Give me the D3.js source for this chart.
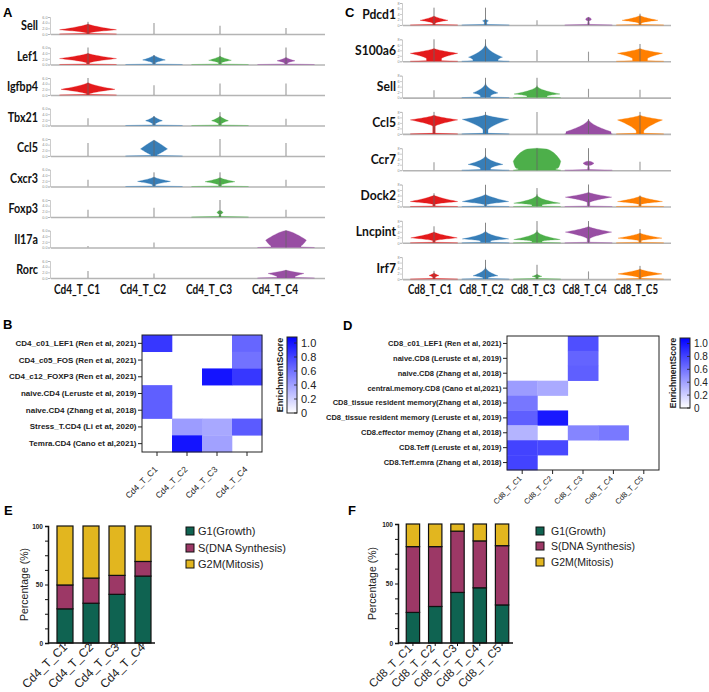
<!DOCTYPE html>
<html><head><meta charset="utf-8">
<script src="https://cdn.jsdelivr.net/npm/d3@7"></script>
<style>body{margin:0;background:#fff}svg{display:block}</style>
</head><body><svg id="c" width="709" height="692"></svg>
<script>
// ---------------- DATA ----------------
const clustersA = ["Cd4_T_C1","Cd4_T_C2","Cd4_T_C3","Cd4_T_C4"];
const genesA = ["Sell","Lef1","Igfbp4","Tbx21","Ccl5","Cxcr3","Foxp3","Il17a","Rorc"];
// each violin: [peak, halfWidth(0-1), bodyTop, whiskerTop, bodyBottom, neckWidth, shape]
const violinA = [
  [[1.5,0.95,3.6,4.3,0.4],[0,0,0,3.9],[0,0,0,2.9],[0,0,0,2.1]],
  [[2.1,0.95,4.0,6.0,0.6],[1.6,0.38,3.3,3.3,0.6],[1.5,0.38,3.0,6.0,0.6],[1.3,0.3,2.6,6.0,0.5]],
  [[2.0,0.9,4.4,6.0,0.4],[0,0,0,3.4],[0,0,0,4.1],[0,0,0,4.1]],
  [[0,0,0,2.6],[1.7,0.28,3.3,3.3,0.6],[1.7,0.28,3.4,4.7,0.6],[0,0,0,2.4]],
  [[0,0,0,4.6],[2.5,0.45,5.6,5.6,0.4,0.1,1.1],[0,0,0,6.0],[0,0,0,4.6]],
  [[0,0,0,2.4],[1.8,0.55,3.4,5.0,0.6],[1.7,0.5,3.2,5.0,0.6],[0,0,0,2.4]],
  [[0,0,0,2.6],[0,0,0,3.3],[1.6,0.1,2.3,6.0,1.0,0.02,2],[0,0,0,2.6]],
  [[0,0,0,0.5],[0,0,0,1.8],[0,0,0,0],[2.6,0.68,6.0,6.0,0.6,0.5,1.4]],
  [[0,0,0,2.5],[0,0,0,1.6],[0,0,0,0],[1.6,0.6,2.8,2.8,0.5,0.3,0.8]]
];
const clustersC = ["Cd8_T_C1","Cd8_T_C2","Cd8_T_C3","Cd8_T_C4","Cd8_T_C5"];
const genesC = ["Pdcd1","S100a6","Sell","Ccl5","Ccr7","Dock2","Lncpint","Irf7"];
const violinC = [
  [[1.7,0.56,3.3,6.3,0.7],[1.5,0.12,2.2,6.3,1.0],[0,0,0,1.7],[2.1,0.12,2.8,2.8,1.5,0.02,2],[1.7,0.72,3.5,4.1,0.7]],
  [[2.9,0.95,4.7,8.0,1.0,0.3],[1.5,0.68,6.5,8.0,0.4,0.5,0.5],[0,0,0,4.1],[0,0,0,3.5],[2.9,0.9,4.7,6.3,1.0,0.3]],
  [[0,0,0,2.7],[1.7,0.5,5.5,7.2,0.5,0.2,0.5],[1.3,0.92,4.4,7.2,0.5,0.4,0.5],[0,0,0,3.2],[0,0,0,2.9]],
  [[5.1,0.95,6.8,8.0,2.8],[5.3,0.93,7.0,8.0,1.5,0.1],[0,0,0,8.0],[0.8,0.9,5.3,5.3,0.2,0.9,0.6],[5.1,0.9,6.8,8.0,1.0,0.15]],
  [[0,0,0,2.9],[2.1,0.7,5.5,8.0,0.5,0.2,0.5],[3.3,0.95,8.0,8.0,0.5,0.75,3],[2.5,0.22,3.3,8.0,1.7,0.02,2],[0,0,0,3.1]],
  [[1.8,0.95,4.2,4.8,0.8],[1.8,0.93,4.5,7.9,0.7],[1.2,0.93,4.5,6.7,0.5,0.2,0.45],[3.4,0.93,5.2,8.0,1.5],[1.8,0.9,3.8,4.0,0.8]],
  [[1.8,0.93,4.0,6.0,0.8],[1.4,0.93,4.5,7.3,0.6,0.2,0.5],[1.2,0.93,4.6,7.9,0.5,0.2,0.45],[3.9,0.93,6.0,7.9,1.5],[1.7,0.88,3.6,5.0,0.8]],
  [[1.3,0.2,2.3,3.0,0.7],[1.2,0.5,4.5,7.0,0.4,0.1,0.5],[1.0,0.2,1.8,5.2,0.6],[0,0,0,2.8],[1.9,0.88,3.7,4.8,0.6]]
];
const clusterColors = ["#e41a1c","#377eb8","#4daf4a","#984ea3","#ff7f00"];

const rowsB = ["CD4_c01_LEF1 (Ren et al, 2021)","CD4_c05_FOS (Ren et al, 2021)","CD4_c12_FOXP3 (Ren et al, 2021)",
  "naive.CD4 (Leruste et al, 2019)","naive.CD4 (Zhang et al, 2018)","Stress_T.CD4 (Li et at, 2020)","Temra.CD4 (Cano et al,2021)"];
const valuesB = [
  [0.85,null,null,0.65],[null,null,null,0.6],[null,null,1.0,0.85],[0.68,null,null,null],
  [0.68,null,null,null],[null,0.42,0.37,0.7],[null,1.0,0.4,null]
];
const rowsD = ["CD8_c01_LEF1 (Ren et al, 2021)","naive.CD8 (Leruste et al, 2019)","naive.CD8 (Zhang et al, 2018)",
  "central.memory.CD8 (Cano et al,2021)","CD8_tissue resident memory(Zhang et al, 2018)",
  "CD8_tissue resident memory (Leruste et al, 2019)","CD8.effector memoy (Zhang et al, 2018)",
  "CD8.Teff (Leruste et al, 2019)","CD8.Teff.emra (Zhang et al, 2018)"];
const valuesD = [
  [null,null,0.75,null,null],[null,null,0.66,null,null],[null,null,0.68,null,null],
  [0.42,0.36,null,null,null],[0.58,null,null,null,null],[0.68,0.98,null,null,null],
  [0.32,null,0.52,0.57,null],[0.8,0.78,null,null,null],[0.8,null,null,null,null]
];
const colorbarTicks = [0,0.2,0.4,0.6,0.8,1.0];

const phases = ["G1(Growth)","S(DNA Synthesis)","G2M(Mitosis)"];
const phaseColors = ["#0f6351","#9c3866","#e2b61f"];
const g1E = [29.2,34.0,41.6,57.2];
const sE  = [20.4,21.5,16.2,12.5];
const g2mE= [50.4,44.5,42.2,30.3];
const g1F = [25.7,30.7,42.5,46.4,32.0];
const sF  = [55.3,50.3,51.5,39.4,49.8];
const g2mF= [19.0,19.0,6.0,14.2,18.2];
const pctTicks = [0,12.5,25,37.5,50,62.5,75,87.5,100];

// ---------------- DRAW ----------------
const svg = d3.select("#c");
svg.append("rect").attr("width",709).attr("height",692).attr("fill","#fff");
const VF = "Lato, 'Open Sans', sans-serif";
const AF = "'Liberation Sans', Arial, sans-serif";

function condense(sel, f){
  sel.each(function(){
    const L = this.getComputedTextLength();
    d3.select(this).attr("textLength", L*f).attr("lengthAdjust","spacingAndGlyphs");
  });
}
function letter(t,x,y){
  svg.append("text").attr("x",x).attr("y",y).text(t)
    .attr("font-family",AF).attr("font-weight","bold").attr("font-size",13).attr("fill","#000");
}
letter("A",3,17); letter("C",345,17); letter("B",3,329); letter("D",343,330); letter("E",4,515); letter("F",348,515);

function profile(d){
  let [pk,w,top,wh,lo,neck,p] = d;
  if(lo===undefined) lo = Math.max(0.3, pk-(top-pk)*0.6);
  if(neck===undefined) neck = 0.05;
  if(p===undefined) p = 0.7;
  const pts = [[0,0.95],[Math.min(0.22,lo*0.5),Math.max(neck,0.04)],[lo,neck]];
  const n = 14;
  for(let k=1;k<=n;k++){const t=k/n; pts.push([lo+(pk-lo)*t, neck+(w-neck)*Math.pow(t,1/p)]);}
  for(let k=1;k<=n;k++){const s=k/n; pts.push([pk+(top-pk)*s, w*Math.pow(1-s,1/p)]);}
  return pts;
}

function violins(cfg){
  const g = svg.append("g");
  const x = d3.scalePoint().domain(cfg.clusters).range(cfg.xRange);
  cfg.genes.forEach((gene,i)=>{
    const base = cfg.base0 + i*cfg.step;
    const y = d3.scaleLinear().domain([0,cfg.yMax]).range([base, base-cfg.rowH]);
    g.append("line").attr("x1",cfg.axisX+1).attr("x2",cfg.lineEnd).attr("y1",y(0)+0.5).attr("y2",y(0)+0.5)
      .attr("stroke","#b4b4b4").attr("stroke-width",1.6);
    const ax = g.append("g").attr("transform",`translate(${cfg.axisX},0)`)
      .call(d3.axisLeft(y).tickValues(cfg.ticks).tickSize(2).tickPadding(0.5));
    ax.selectAll("text").attr("font-size",3.8).attr("fill","#888").attr("font-family",AF);
    ax.selectAll("line,path").attr("stroke","#aaa").attr("stroke-width",0.6);
    const lab = g.append("text").attr("x",cfg.labelX).attr("y",base-cfg.rowH/2+4.5).attr("text-anchor","end")
      .attr("font-family",VF).attr("font-weight","bold").attr("font-size",12.5).attr("fill","#111").text(gene);
    condense(lab, cfg.labelCond);
    cfg.data[i].forEach((d,j)=>{
      const cx = x(cfg.clusters[j]);
      if(d[1]>0){
        const area = d3.area().y(p=>y(p[0])).x0(p=>cx-p[1]*cfg.maxHalf).x1(p=>cx+p[1]*cfg.maxHalf);
        g.append("path").attr("d",area(profile(d))).attr("fill",clusterColors[j]).attr("stroke",clusterColors[j]).attr("stroke-width",0.3);
      }
      if(d[3]>0){
        g.append("line").attr("x1",cx).attr("x2",cx).attr("y1",y(0)).attr("y2",y(d[3]))
          .attr("stroke", d[1]>0 ? "#666" : "#9a9a9a").attr("stroke-width",d[1]>0?0.8:1.1);
      }
    });
  });
  cfg.clusters.forEach(c=>{
    g.append("text").attr("x",x(c)+cfg.labelShift).attr("y",294).attr("text-anchor","middle")
      .attr("font-family",VF).attr("font-weight","bold").attr("font-size",12.5).attr("fill","#111")
      .attr("textLength",cfg.xLabW).attr("lengthAdjust","spacingAndGlyphs").text(c);
  });
}

violins({clusters:clustersA,genes:genesA,data:violinA,xRange:[88,286],base0:34,step:30.5,rowH:17,yMax:6,
  ticks:[0,2,4,6],axisX:50,lineEnd:325,labelX:38,maxHalf:30,labelShift:-11,labelCond:0.86,xLabW:46});
violins({clusters:clustersC,genes:genesC,data:violinC,xRange:[434,640],base0:25,step:36.3,rowH:22,yMax:8,
  ticks:[0,2,4,6,8],axisX:402,lineEnd:671,labelX:396,maxHalf:25,labelShift:-4,labelCond:0.97,xLabW:44});

// heatmaps
function heatmap(cfg){
  const g = svg.append("g");
  const x = d3.scaleBand().domain(cfg.cols).range(cfg.xr);
  const y = d3.scaleBand().domain(cfg.rows).range(cfg.yr);
  const col = d3.scaleLinear().domain([0,1.086]).range(["#ffffff","#0000ff"]);
  cfg.values.forEach((r,i)=>r.forEach((v,j)=>{
    if(v==null) return;
    g.append("rect").attr("x",x(cfg.cols[j])).attr("y",y(cfg.rows[i])).attr("width",x.bandwidth()+0.3).attr("height",y.bandwidth()+0.3)
      .attr("fill",col(v));
  }));
  g.append("rect").attr("x",cfg.xr[0]).attr("y",cfg.yr[0]).attr("width",cfg.xr[1]-cfg.xr[0]).attr("height",cfg.yr[1]-cfg.yr[0])
    .attr("fill","none").attr("stroke","#222").attr("stroke-width",1);
  const ay = g.append("g").attr("transform",`translate(${cfg.xr[0]},0)`).call(d3.axisLeft(y).tickSize(4).tickPadding(1.5));
  ay.select(".domain").remove();
  ay.selectAll("line").attr("stroke","#222");
  ay.selectAll("text").attr("font-family",AF).attr("font-weight","bold").attr("font-size",cfg.rowFont).attr("fill","#222");
  const axb = g.append("g").attr("transform",`translate(0,${cfg.yr[1]})`).call(d3.axisBottom(x).tickSize(4).tickFormat(""));
  axb.select(".domain").remove();
  axb.selectAll("line").attr("stroke","#222");
  cfg.cols.forEach(c=>{
    g.append("text").attr("transform",`translate(${x(c)+x.bandwidth()/2+cfg.lx},${cfg.yr[1]+cfg.ly}) rotate(-45)`)
      .attr("text-anchor","end").attr("font-family",AF).attr("font-size",cfg.colFont).attr("fill","#222").text(c);
  });
  const cb = cfg.cb;
  const cy = d3.scaleLinear().domain([0,1.086]).range([cb.y1, cb.y0]);
  const gid = "grad"+cfg.id;
  const grad = svg.append("defs").append("linearGradient").attr("id",gid).attr("x1",0).attr("y1",1).attr("x2",0).attr("y2",0);
  grad.append("stop").attr("offset","0%").attr("stop-color",col(0));
  grad.append("stop").attr("offset","100%").attr("stop-color",col(1.086));
  g.append("rect").attr("x",cb.x).attr("y",cb.y0).attr("width",cb.w).attr("height",cb.y1-cb.y0)
    .attr("fill",`url(#${gid})`).attr("stroke","#222").attr("stroke-width",1);
  colorbarTicks.forEach(t=>{
    g.append("line").attr("x1",cb.x+cb.w-3).attr("x2",cb.x+cb.w).attr("y1",cy(t)).attr("y2",cy(t)).attr("stroke","#222").attr("stroke-width",0.8);
    g.append("text").attr("x",cb.x+cb.w+4).attr("y",cy(t)+cb.fs*0.36).attr("font-family",AF).attr("font-size",cb.fs).attr("fill","#222")
      .text(t===0?"0":d3.format(".1f")(t));
  });
  g.append("text").attr("transform",`translate(${cb.x-4},${(cb.y0+cb.y1)/2}) rotate(-90)`).attr("text-anchor","middle")
    .attr("font-family",AF).attr("font-weight","bold").attr("font-size",cb.lfs).attr("fill","#222").text("EnrichmentScore");
}
heatmap({id:"B",cols:clustersA,rows:rowsB,values:valuesB,xr:[142,262],yr:[335,452],rowFont:8,colFont:8.5,lx:1,ly:18,
  cb:{x:287,w:10,y0:337,y1:413,fs:11,lfs:9}});
heatmap({id:"D",cols:clustersC,rows:rowsD,values:valuesD,xr:[507,659],yr:[336,470],rowFont:7.5,colFont:7.5,lx:0,ly:9,
  cb:{x:680,w:10,y0:338,y1:408,fs:10,lfs:8.5}});

// stacked bars
function bars(cfg){
  const g = svg.append("g");
  const data = cfg.clusters.map((c,i)=>({c, [phases[0]]:cfg.g1[i], [phases[1]]:cfg.s[i], [phases[2]]:cfg.g2m[i]}));
  const series = d3.stack().keys(phases)(data);
  const x = d3.scaleBand().domain(cfg.clusters).range(cfg.xr).paddingInner(cfg.pi).paddingOuter(cfg.po);
  const y = d3.scaleLinear().domain([0,100]).range([cfg.y0,cfg.y100]);
  series.forEach((s,k)=>{
    g.selectAll(null).data(s).enter().append("rect")
      .attr("x",d=>x(d.data.c)).attr("width",x.bandwidth())
      .attr("y",d=>y(d[1])).attr("height",d=>y(d[0])-y(d[1]))
      .attr("fill",phaseColors[k]).attr("stroke","#111").attr("stroke-width",1.2);
  });
  const ay = g.append("g").attr("transform",`translate(${cfg.xr[0]},0)`)
    .call(d3.axisLeft(y).tickValues(pctTicks).tickSize(3).tickPadding(2).tickFormat(d=>d%50===0?d:""));
  ay.select(".domain").attr("stroke","#111").attr("stroke-width",1.5);
  ay.selectAll("line").attr("stroke","#111").attr("stroke-width",1);
  ay.selectAll("text").attr("font-family",AF).attr("font-weight","bold").attr("font-size",6.5).attr("fill","#222");
  const axb = g.append("g").attr("transform",`translate(0,${cfg.y0})`).call(d3.axisBottom(x).tickSize(3).tickFormat(""));
  axb.select(".domain").attr("d",`M${cfg.xr[0]},0H${cfg.xEnd}`).attr("stroke","#111").attr("stroke-width",1.5);
  axb.selectAll("line").attr("stroke","#111");
  cfg.clusters.forEach(c=>{
    g.append("text").attr("transform",`translate(${x(c)+x.bandwidth()/2+cfg.lx},${cfg.y0+cfg.ly}) rotate(-45)`)
      .attr("text-anchor","end").attr("font-family",AF).attr("font-size",cfg.xFs).attr("fill","#222").text(c);
  });
  g.append("text").attr("transform",`translate(${cfg.ylx},${(cfg.y0+cfg.y100)/2}) rotate(-90)`).attr("text-anchor","middle")
    .attr("font-family",AF).attr("font-size",10.5).attr("fill","#222").text("Percentage (%)");
  phases.forEach((p,k)=>{
    g.append("rect").attr("x",cfg.legX).attr("y",cfg.legY[k]-4).attr("width",8).attr("height",8)
      .attr("fill",phaseColors[k]).attr("stroke","#111").attr("stroke-width",1);
    g.append("text").attr("x",cfg.legTX).attr("y",cfg.legY[k]+4).attr("font-family",AF).attr("font-size",cfg.legFs)
      .attr("fill","#222").text(p);
  });
}
bars({clusters:clustersA,g1:g1E,s:sE,g2m:g2mE,xr:[48,160],xEnd:155,pi:0.385,po:0.346,y0:643,y100:526,lx:3,ly:5,ylx:28,xFs:12,
  legX:186,legTX:198,legY:[531,548,564],legFs:11});
bars({clusters:clustersC,g1:g1F,s:sF,g2m:g2mF,xr:[398,517],xEnd:513,pi:0.4,po:0.37,y0:643,y100:524,lx:0,ly:6,ylx:376,xFs:11.5,
  legX:536,legTX:551,legY:[531,546,562],legFs:10.5});
</script></body></html>
